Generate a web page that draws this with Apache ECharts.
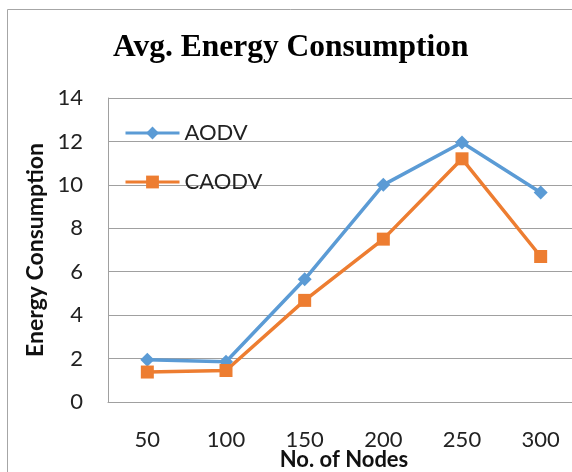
<!DOCTYPE html>
<html><head><meta charset="utf-8">
<script src="https://cdn.jsdelivr.net/npm/echarts@6/dist/echarts.min.js"></script>
<style>html,body{margin:0;padding:0;background:#fff}#c{width:572px;height:472px}</style>
</head><body><div id="c"></div>
<script>
var categories = ['50','100','150','200','250','300'];
var aodv = [1.95, 1.85, 5.65, 10.0, 11.95, 9.65];
var caodv = [1.38, 1.45, 4.68, 7.5, 11.2, 6.7];
var yTicks = [0, 14, 2];

var chart = echarts.init(document.getElementById('c'), null, {renderer:'canvas'});
chart.setOption({
  animation:false,
  backgroundColor:'#fff',
  graphic:[{type:'rect', shape:{x:7.5,y:9.5,width:700,height:600}, style:{fill:'none',stroke:'#a6a6a6',lineWidth:1}, silent:true}],
  title:{text:'Avg. Energy Consumption', left:113, top:32, padding:0,
    textStyle:{fontFamily:'Liberation Serif', fontWeight:'bold', fontSize:31.5, color:'#000'}},
  legend:{orient:'vertical', left:124, top:122, padding:0, itemGap:27, itemWidth:54, itemHeight:16,
    lineStyle:{width:3},
    textStyle:{fontFamily:'Lato', fontSize:22, lineHeight:22, color:'#222'},
    data:['AODV','CAODV']},
  grid:{left:108, top:98, width:472, height:304, outerBoundsMode:'none', containLabel:false},
  xAxis:{type:'category', data:categories, boundaryGap:true,
    name:'No. of Nodes', nameLocation:'middle', nameGap:47, nameMoveOverlap:false,
    nameTextStyle:{fontFamily:'Lato', fontWeight:'bold', fontSize:22, color:'#111'},
    axisLine:{lineStyle:{color:'#a0a0a0',width:1}}, axisTick:{show:false},
    axisLabel:{fontFamily:'Lato', fontSize:22, color:'#222', margin:27}},
  yAxis:{type:'value', min:yTicks[0], max:yTicks[1], interval:yTicks[2],
    name:'Energy Consumption', nameLocation:'middle', nameGap:61, nameRotate:90, nameMoveOverlap:false,
    nameTextStyle:{fontFamily:'Lato', fontWeight:'bold', fontSize:23, color:'#111'},
    axisLine:{show:true, lineStyle:{color:'#a0a0a0',width:1}}, axisTick:{show:false},
    splitLine:{lineStyle:{color:'#a0a0a0',width:1}},
    axisLabel:{fontFamily:'Lato', fontSize:22, color:'#222', margin:25}},
  series:[
    {name:'AODV', type:'line', data:aodv, symbol:'diamond', symbolSize:14,
      lineStyle:{color:'#5B9BD5', width:3.5}, itemStyle:{color:'#5B9BD5'}},
    {name:'CAODV', type:'line', data:caodv, symbol:'rect', symbolSize:13,
      lineStyle:{color:'#ED7D31', width:3.5}, itemStyle:{color:'#ED7D31'}}
  ]
});
</script></body></html>
